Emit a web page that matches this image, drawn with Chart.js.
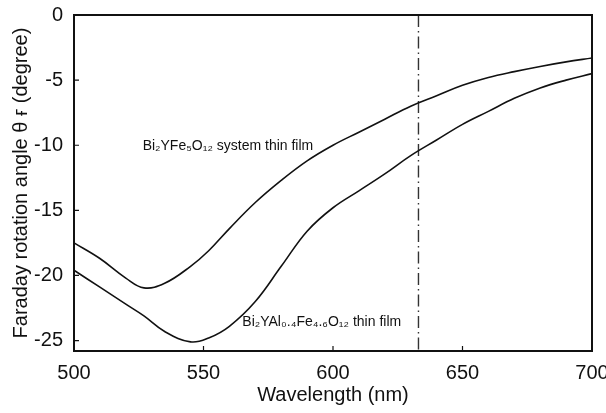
<!DOCTYPE html>
<html>
<head>
<meta charset="utf-8">
<script src="https://cdn.jsdelivr.net/npm/chart.js@4"></script>
<style>
  html, body { margin: 0; padding: 0; background: #fff; }
  #wrap { width: 606px; height: 413px; }
</style>
</head>
<body>
<div id="wrap"><canvas id="grafico" width="606" height="413"></canvas></div>
<script>
// values
const wavelengths = [500, 510, 520, 527, 535, 545, 552, 560, 570, 580, 590, 600, 610, 620, 630, 640, 650, 660, 670, 680, 690, 700];
const filmYFe = [-17.5, -18.7, -20.2, -20.95, -20.6, -19.3, -18.1, -16.4, -14.4, -12.7, -11.2, -10.0, -9.0, -8.0, -7.0, -6.2, -5.4, -4.8, -4.35, -3.95, -3.6, -3.3];
const filmYAlFe = [-19.6, -20.9, -22.2, -23.1, -24.3, -25.1, -24.8, -23.9, -22.0, -19.3, -16.6, -14.8, -13.5, -12.2, -10.8, -9.6, -8.4, -7.4, -6.4, -5.6, -5.0, -4.5];
const laserLine = [633, 633];
const laserRange = [0, -25.8];
const xTicks = [500, 550, 600, 650, 700];
const yTicks = [0, -5, -10, -15, -20, -25];
const curveLabels = [
    { text: 'Bi\u2082YFe\u2085O\u2081\u2082 system thin film', x: 526.5, y: -10.1 },
    { text: 'Bi\u2082YAl\u2080.\u2084Fe\u2084.\u2086O\u2081\u2082 thin film', x: 565, y: -23.6 }
];

const toPoints = (xs, ys) => xs.map((x, i) => ({ x: x, y: ys[i] }));

const frame = {
    id: 'frame',
    afterDraw(chart) {
        const ctx = chart.ctx;
        const a = chart.chartArea;
        const sx = chart.scales.x;
        const sy = chart.scales.y;
        ctx.save();
        ctx.strokeStyle = '#111';
        ctx.lineWidth = 2;
        ctx.strokeRect(a.left, a.top, a.right - a.left, a.bottom - a.top);
        ctx.lineWidth = 1.2;
        ctx.beginPath();
        xTicks.forEach(v => {
            const px = sx.getPixelForValue(v);
            ctx.moveTo(px, a.bottom);
            ctx.lineTo(px, a.bottom - 5);
        });
        yTicks.forEach(v => {
            const py = sy.getPixelForValue(v);
            ctx.moveTo(a.left, py);
            ctx.lineTo(a.left + 5, py);
        });
        ctx.stroke();
        ctx.fillStyle = '#111';
        ctx.font = '14px "Liberation Sans", Arial, sans-serif';
        ctx.textBaseline = 'middle';
        curveLabels.forEach(l => {
            ctx.fillText(l.text, sx.getPixelForValue(l.x), sy.getPixelForValue(l.y));
        });
        ctx.restore();
    }
};

Chart.defaults.font.family = '"Liberation Sans", Arial, sans-serif';
Chart.defaults.color = '#111';

new Chart(document.getElementById('grafico'), {
    type: 'line',
    data: {
        datasets: [
            {
                label: 'Bi2YFe5O12',
                data: toPoints(wavelengths, filmYFe),
                borderColor: '#111',
                borderWidth: 1.6,
                pointRadius: 0,
                tension: 0.4
            },
            {
                label: 'Bi2YAl0.4Fe4.6O12',
                data: toPoints(wavelengths, filmYAlFe),
                borderColor: '#111',
                borderWidth: 1.6,
                pointRadius: 0,
                tension: 0.4
            },
            {
                label: '633 nm',
                data: toPoints(laserLine, laserRange),
                borderColor: '#333',
                borderWidth: 1.4,
                borderDash: [12, 4, 1.5, 4],
                pointRadius: 0
            }
        ]
    },
    options: {
        responsive: false,
        animation: false,
        layout: { padding: { left: 0, top: 15, right: 14, bottom: 0 } },
        plugins: {
            legend: { display: false },
            tooltip: { enabled: false }
        },
        scales: {
            x: {
                type: 'linear',
                min: 500,
                max: 700,
                afterBuildTicks: s => { s.ticks = xTicks.map(v => ({ value: v })); },
                afterFit: s => { s.height = 62; s.paddingLeft = 0; s.paddingRight = 0; },
                grid: { display: false },
                border: { display: false },
                ticks: { font: { size: 20 }, padding: 2, maxRotation: 0 },
                title: {
                    display: true,
                    text: 'Wavelength (nm)',
                    font: { size: 20 },
                    padding: { top: 0, bottom: 6 }
                }
            },
            y: {
                min: -25.8,
                max: 0,
                afterBuildTicks: s => { s.ticks = yTicks.map(v => ({ value: v })); },
                afterFit: s => { s.width = 74; },
                grid: { display: false },
                border: { display: false },
                ticks: { font: { size: 20 }, padding: 3 },
                title: {
                    display: true,
                    text: 'Faraday rotation angle \u03b8 \u0493 (degree)',
                    font: { size: 20 },
                    padding: { top: 9, bottom: 0 }
                }
            }
        }
    },
    plugins: [frame]
});
</script>
</body>
</html>
